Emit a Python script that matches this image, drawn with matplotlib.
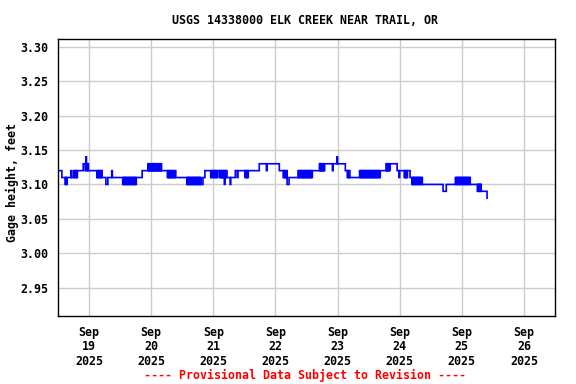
import matplotlib
matplotlib.use("Agg")
import matplotlib.pyplot as plt
import matplotlib.dates as mdates
import numpy as np
import pandas as pd

# Gage height readings, 15-minute interval, starting 2025-09-18 12:00.
# Each digit d encodes a gage height of 3.05 + d*0.01 feet (spaces only group runs).
sep18 = "777777 66666 5656 66666 7 66 67676767 77777777 888 7 9 8787"
sep19 = ("777777777777 67676767 666666 555 666666 7 6666666666666666 "
         "5656565656565656565656 66666666 777777777 87878")
sep20 = ("78787878787878787 77777777 6767676767 66766666666666666666 "
         "565656565656565656565 6 555 666 777777777 6767")
sep21 = ("767676 777 676767675767 6666656666666 777 6 77777777777 67676 "
         "77777777777777777 88888888888 7 8888888888888")
sep22 = ("888888 777777 676767 555 6666666666666 67676767676767676767676 "
         "77777777777 878787878 88888888888 7 888888 9")
sep23 = ("888888888888 777 6767 66666666666666 "
         "676767676767676767676767676767676 777777777 878787 88888888888 7776")
sep24 = ("7777777 67676 7777 666 56565656565656565 "
         "5555555555555555555555555555555 44444 55555555555555 6565656565")
sep25 = "6565656565656 55555555555 454545 444444444 3"

days = [sep18, sep19, sep20, sep21, sep22, sep23, sep24, sep25]
start_time = "2025-09-18 12:00"

site_title = "USGS 14338000 ELK CREEK NEAR TRAIL, OR"
y_label = "Gage height, feet"
footer = "---- Provisional Data Subject to Revision ----"
y_ticks = [2.95, 3.00, 3.05, 3.10, 3.15, 3.20, 3.25, 3.30]
x_tick_days = ["2025-09-19", "2025-09-20", "2025-09-21", "2025-09-22",
               "2025-09-23", "2025-09-24", "2025-09-25", "2025-09-26"]

codes = [d.replace(" ", "") for d in days]
lens = [len(c) for c in codes]
assert lens == [48, 96, 96, 96, 96, 96, 96, 40], lens
digits = "".join(codes)
values = np.array([3.05 + int(ch) * 0.01 for ch in digits])
times = pd.date_range(start_time, periods=len(values), freq="15min")

font = "DejaVu Sans Mono"
fs = 8.4

fig = plt.figure(figsize=(5.76, 3.84), dpi=100)
ax = fig.add_axes([58/576, 1-316/384, (555-58)/576, (316-39)/384])

ax.plot(times, values, color="#0000ff", lw=1.2, drawstyle="steps-post",
        solid_joinstyle="miter")

ax.set_xlim(pd.Timestamp("2025-09-18 12:00"), pd.Timestamp("2025-09-26 12:00"))
ax.set_ylim(2.9089, 3.3112)
ax.set_yticks(y_ticks)
ax.set_yticklabels([f"{v:.2f}" for v in y_ticks], fontfamily=font,
                   fontweight="bold", fontsize=fs)
ax.set_xticks([pd.Timestamp(d) for d in x_tick_days])
ax.xaxis.set_major_formatter(mdates.DateFormatter("%b\n%d\n%Y"))
for lab in ax.get_xticklabels():
    lab.set_fontfamily(font)
    lab.set_fontweight("bold")
    lab.set_fontsize(fs)
    lab.set_linespacing(1.15)

ax.grid(True, color="#cccccc", lw=1.0)
ax.set_axisbelow(True)
ax.tick_params(length=0, pad=7)
for s in ax.spines.values():
    s.set_color("black")
    s.set_linewidth(1.0)

ax.set_ylabel(y_label, fontfamily=font, fontweight="bold", fontsize=fs)
ax.yaxis.set_label_coords((19 - 58) / 497, (316 - 183) / 277)

fig.text(305/576, 1-20/384, site_title, ha="center", va="center",
         fontfamily=font, fontweight="bold", fontsize=fs)
fig.text(305/576, 1-375/384, footer, ha="center", va="center",
         fontfamily=font, fontweight="bold", fontsize=fs, color="#ff0000")

fig.savefig("out.png", dpi=100)
